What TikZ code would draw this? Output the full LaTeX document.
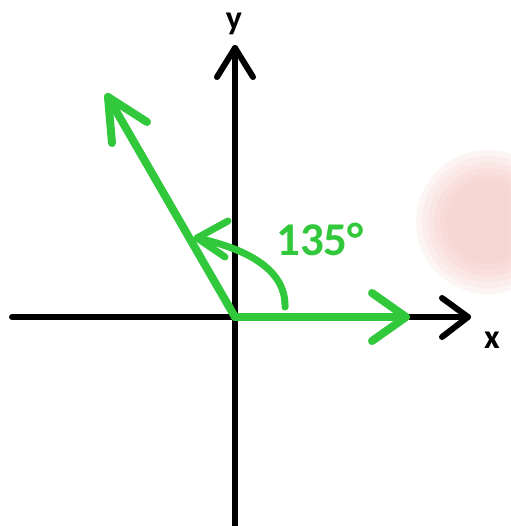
\documentclass[tikz,border=0pt]{standalone}
\usepackage{fontspec}
\setmainfont{Carlito}
\definecolor{vgreen}{RGB}{50,200,60}
\definecolor{blob}{RGB}{246,196,190}
\begin{document}
\begin{tikzpicture}[x=1pt,y=-1pt,
  axis/.style={draw=black,line width=6pt,line cap=round,line join=round},
  vec/.style={draw=vgreen,line width=8pt,line cap=round,line join=round},
  arcv/.style={draw=vgreen,line width=7pt,line cap=round,line join=round},
  lab/.style={font=\bfseries\fontsize{34}{34}\selectfont},
  glab/.style={font=\bfseries\fontsize{47}{47}\selectfont,text=vgreen}]
\useasboundingbox[fill=white] (0,0) rectangle (510,526);
% faint pink blob
\foreach \r in {72,66,...,42}
  \fill[blob,opacity=0.16] (488,222) circle (\r);
% named points
\coordinate (O) at (235,317);
\coordinate (xl) at (12,317);
\coordinate (xt) at (468,317);
\coordinate (yb) at (235,526);
\coordinate (yt) at (235,48);
\coordinate (vr) at (406,317);
\coordinate (vl) at (108,97);
\coordinate (as) at (285,307);
\coordinate (ae) at (197,238);
% axes
\draw[axis] (xl) -- (xt);
\draw[axis] (442,298) -- (xt) -- (442,337);
\draw[axis] (yb) -- (yt);
\draw[axis] (217,77) -- (yt) -- (253,77);
\node[lab] (ylab) at (234,24) {y};
\node[lab] (xlab) at (492,340) {x};
% green vectors
\draw[vec] (O) -- (vr);
\draw[vec] (372,293) -- (vr) -- (372,341);
\draw[vec] (O) -- (vl);
\draw[vec] (112,143) -- (vl) -- (147,122);
% angle arc
\draw[arcv] (as) .. controls (286,272) and (252,250) .. (ae);
\draw[arcv] (228,221) -- (ae) -- (225,257);
\node[glab,anchor=center] (ang) at (320,239) {135°};
\end{tikzpicture}
\end{document}
